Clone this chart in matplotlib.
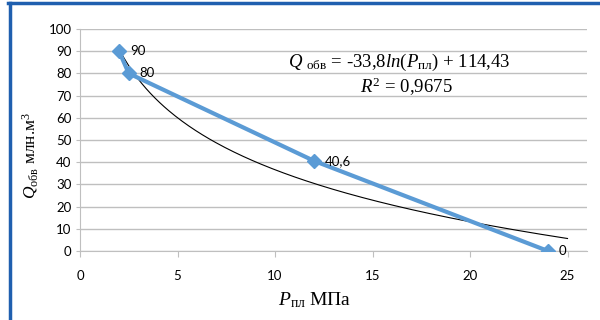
import numpy as np
import matplotlib
matplotlib.use("Agg")
import matplotlib.pyplot as plt

plt.rcParams['mathtext.fontset'] = 'custom'
plt.rcParams['mathtext.rm'] = 'Liberation Serif'
plt.rcParams['mathtext.it'] = 'Liberation Serif:italic'

# data
p_pl = [2, 2.5, 12, 24]
q_obv = [90, 80, 40.6, 0]
point_labels = ['90', '80', '40,6', '0']

# log trend Q = a*ln(P) + b
a = -33.8
b = 114.43
trend_x = np.linspace(2, 25, 200)
trend_y = a * np.log(trend_x) + b

blue = '#5B9BD5'
grid_c = '#BFBFBF'
tick_font = 'Lato'

fig = plt.figure(figsize=(6, 3.2), dpi=100)
ax = fig.add_axes([80/600, 1-251/320, 507/600, 222/320])

ax.plot(trend_x, trend_y, color='black', lw=0.8, zorder=2)
ax.plot(p_pl, q_obv, color=blue, lw=3, marker='D', ms=7, zorder=3)
for x, y, t in zip(p_pl, q_obv, point_labels):
    ax.annotate(t, (x, y), xytext=(8, 0), textcoords='offset points',
                va='center', ha='left', fontsize=9.5, family=tick_font)

ax.set_xlim(0, 26)
ax.set_ylim(0, 100)
ax.set_xticks([0, 5, 10, 15, 20, 25])
ax.set_yticks(np.arange(0, 101, 10))
ax.grid(axis='y', color=grid_c, lw=1)
ax.set_axisbelow(True)
for s in ['top', 'right']:
    ax.spines[s].set_visible(False)
for s in ['left', 'bottom']:
    ax.spines[s].set_color(grid_c)
ax.tick_params(axis='y', length=3, color=grid_c, labelsize=9.5, pad=3)
ax.tick_params(axis='x', length=4, color=grid_c, labelsize=9.5, pad=10)
for lab in ax.get_xticklabels() + ax.get_yticklabels():
    lab.set_family(tick_font)

ax.text(288/600, 1-62/320, r'$Q$ $_{\mathrm{обв}}$ = -33,8$ln$($P_{\mathrm{пл}}$) + 114,43',
        transform=fig.transFigure, family='Liberation Serif', fontsize=13.5,
        va='center', ha='left')
ax.text(360/600, 1-87/320, r'$R^2$ = 0,9675',
        transform=fig.transFigure, family='Liberation Serif', fontsize=13.5,
        va='center', ha='left')

fig.text(30/600, 1-155/320, r'$Q_{\mathrm{обв}}$ млн.м$^3$', rotation=90,
         family='Liberation Serif', fontsize=12.5, va='center', ha='center')
fig.text(315/600, 1-300/320, r'$P_{\mathrm{пл}}$ МПа',
         family='Liberation Serif', fontsize=14, va='center', ha='center')

# frame of the picture (left and top edges visible)
fig.add_artist(plt.Line2D([9.5/600, 9.5/600], [0, 1-2.5/320], color='#1F5FAF', lw=2.5))
fig.add_artist(plt.Line2D([8/600, 1], [1-3/320, 1-3/320], color='#1F5FAF', lw=2.5))

fig.savefig('out.png', dpi=100)
